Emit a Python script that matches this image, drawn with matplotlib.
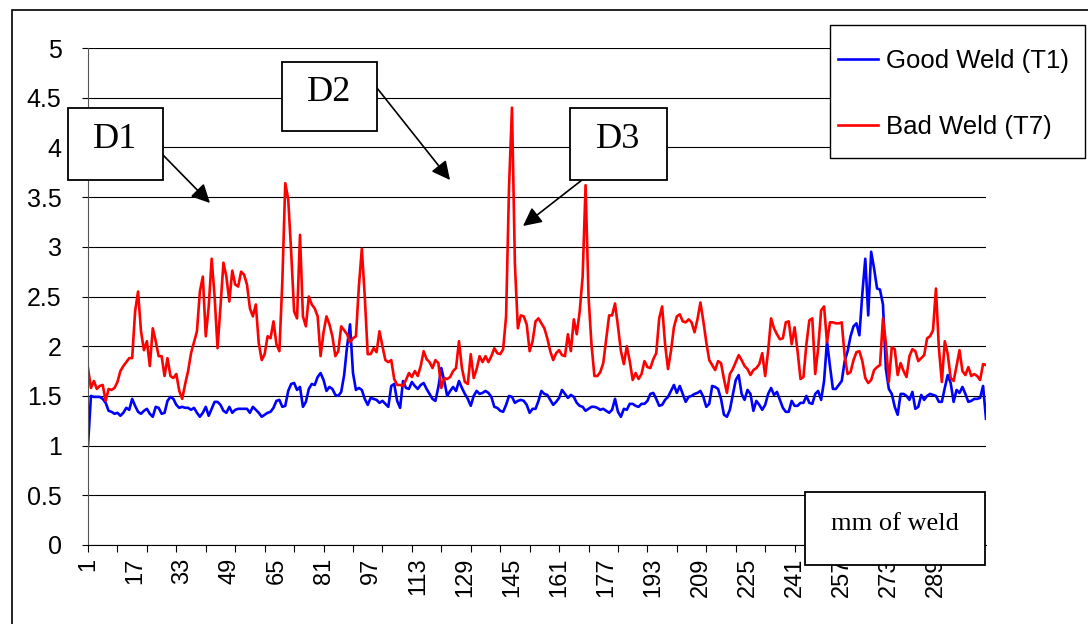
import numpy as np
import matplotlib.pyplot as plt
from matplotlib.patches import Rectangle

plt.rcParams['font.family'] = ['Liberation Sans', 'DejaVu Sans']

# readings along the weld, one value per mm
good_weld = [
    1.00, 1.50, 1.49, 1.49, 1.49, 1.47, 1.43, 1.35, 1.34, 1.32,
    1.33, 1.30, 1.33, 1.38, 1.36, 1.47, 1.40, 1.34, 1.32, 1.35,
    1.37, 1.32, 1.29, 1.39, 1.38, 1.32, 1.33, 1.45, 1.49, 1.47,
    1.41, 1.38, 1.39, 1.38, 1.38, 1.36, 1.38, 1.33, 1.29, 1.33,
    1.39, 1.30, 1.37, 1.44, 1.44, 1.41, 1.35, 1.33, 1.39, 1.33,
    1.36, 1.37, 1.37, 1.37, 1.37, 1.33, 1.39, 1.36, 1.33, 1.29,
    1.31, 1.33, 1.34, 1.38, 1.45, 1.46, 1.39, 1.40, 1.55, 1.62,
    1.63, 1.56, 1.59, 1.39, 1.44, 1.57, 1.62, 1.61, 1.69, 1.73,
    1.66, 1.55, 1.59, 1.57, 1.51, 1.50, 1.54, 1.71, 2.00, 2.22,
    1.73, 1.56, 1.58, 1.56, 1.47, 1.41, 1.48, 1.47, 1.46, 1.43,
    1.45, 1.42, 1.39, 1.60, 1.62, 1.45, 1.38, 1.65, 1.58, 1.57,
    1.64, 1.60, 1.57, 1.61, 1.63, 1.57, 1.52, 1.47, 1.45, 1.59,
    1.78, 1.65, 1.50, 1.55, 1.59, 1.55, 1.65, 1.58, 1.52, 1.47,
    1.40, 1.50, 1.55, 1.52, 1.53, 1.55, 1.53, 1.49, 1.39, 1.38,
    1.35, 1.34, 1.41, 1.50, 1.49, 1.43, 1.45, 1.46, 1.45, 1.41,
    1.33, 1.37, 1.37, 1.45, 1.55, 1.52, 1.51, 1.46, 1.41, 1.44,
    1.48, 1.56, 1.52, 1.48, 1.51, 1.49, 1.43, 1.40, 1.39, 1.35,
    1.37, 1.39, 1.39, 1.38, 1.36, 1.37, 1.35, 1.33, 1.36, 1.47,
    1.34, 1.29, 1.37, 1.36, 1.42, 1.42, 1.40, 1.39, 1.42, 1.42,
    1.45, 1.52, 1.53, 1.47, 1.40, 1.41, 1.46, 1.49, 1.55, 1.61,
    1.53, 1.60, 1.52, 1.44, 1.49, 1.50, 1.52, 1.53, 1.55, 1.49,
    1.39, 1.42, 1.60, 1.59, 1.57, 1.47, 1.31, 1.29, 1.36, 1.51,
    1.66, 1.71, 1.52, 1.46, 1.56, 1.52, 1.35, 1.45, 1.41, 1.36,
    1.41, 1.52, 1.58, 1.51, 1.54, 1.46, 1.38, 1.34, 1.34, 1.45,
    1.40, 1.40, 1.43, 1.43, 1.50, 1.43, 1.42, 1.52, 1.55, 1.46,
    1.65, 2.05, 1.80, 1.57, 1.57, 1.61, 1.65, 1.85, 1.95, 2.10,
    2.20, 2.23, 2.11, 2.53, 2.88, 2.31, 2.95, 2.78, 2.58, 2.57,
    2.42, 1.77, 1.57, 1.52, 1.39, 1.31, 1.52, 1.52, 1.50, 1.46,
    1.54, 1.37, 1.39, 1.51, 1.46, 1.50, 1.52, 1.51, 1.50, 1.44,
    1.44, 1.58, 1.71, 1.63, 1.44, 1.56, 1.53, 1.59, 1.52, 1.44,
    1.45, 1.47, 1.47, 1.48, 1.60, 1.27,
]

bad_weld = [
    1.78, 1.58, 1.65, 1.57, 1.60, 1.61, 1.45, 1.57, 1.56, 1.58,
    1.64, 1.75, 1.80, 1.84, 1.88, 1.88, 2.35, 2.55, 2.15, 1.96,
    2.05, 1.80, 2.18, 2.05, 1.90, 1.90, 1.70, 1.88, 1.70, 1.68,
    1.72, 1.55, 1.47, 1.62, 1.75, 1.93, 2.04, 2.15, 2.55, 2.70,
    2.10, 2.40, 2.88, 2.50, 1.98, 2.40, 2.84, 2.70, 2.45, 2.76,
    2.62, 2.60, 2.75, 2.72, 2.62, 2.38, 2.30, 2.42, 2.03, 1.86,
    1.92, 2.10, 2.08, 2.25, 2.02, 1.95, 2.65, 3.64, 3.48, 2.95,
    2.35, 2.28, 3.12, 2.30, 2.20, 2.50, 2.42, 2.38, 2.30, 1.90,
    2.14, 2.30, 2.22, 2.10, 1.90, 1.95, 2.20, 2.16, 2.12, 2.04,
    2.08, 2.10, 2.60, 2.98, 2.50, 1.92, 1.92, 1.98, 1.94, 2.15,
    2.00, 1.86, 1.84, 1.86, 1.67, 1.61, 1.61, 1.60, 1.66, 1.73,
    1.69, 1.75, 1.70, 1.80, 1.95, 1.87, 1.84, 1.78, 1.86, 1.83,
    1.58, 1.68, 1.67, 1.69, 1.75, 1.78, 2.05, 1.78, 1.64, 1.62,
    1.92, 1.68, 1.77, 1.90, 1.84, 1.90, 1.84, 1.90, 1.98, 1.93,
    1.92, 1.97, 2.30, 3.60, 4.40, 2.82, 2.18, 2.31, 2.30, 2.22,
    1.95, 2.05, 2.25, 2.28, 2.23, 2.18, 2.08, 1.95, 1.86, 1.93,
    1.96, 1.91, 1.90, 2.12, 1.95, 2.27, 2.12, 2.35, 2.70, 3.62,
    2.50, 2.02, 1.70, 1.70, 1.74, 1.83, 2.07, 2.31, 2.31, 2.43,
    2.20, 1.95, 1.82, 2.00, 1.85, 1.66, 1.73, 1.67, 1.72, 1.85,
    1.79, 1.78, 1.87, 1.93, 2.28, 2.40, 2.02, 1.77, 1.95, 2.19,
    2.30, 2.32, 2.25, 2.24, 2.27, 2.24, 2.14, 2.27, 2.44, 2.25,
    2.04, 1.86, 1.81, 1.76, 1.85, 1.83, 1.67, 1.53, 1.72, 1.77,
    1.84, 1.91, 1.86, 1.80, 1.77, 1.71, 1.76, 1.78, 1.82, 1.93,
    1.70, 1.95, 2.28, 2.18, 2.12, 2.07, 2.08, 2.24, 2.25, 2.02,
    2.19, 1.95, 1.67, 1.69, 2.02, 2.26, 2.28, 1.72, 1.98, 2.36,
    2.40, 2.04, 2.24, 2.24, 2.23, 2.23, 2.24, 1.90, 1.72, 1.74,
    1.86, 1.94, 1.95, 1.85, 1.68, 1.63, 1.66, 1.76, 1.79, 1.81,
    2.28, 2.03, 1.64, 1.99, 1.97, 1.71, 1.83, 1.75, 1.69, 1.90,
    1.97, 1.95, 1.85, 1.88, 1.91, 2.08, 2.10, 2.16, 2.58, 1.98,
    1.64, 2.05, 1.92, 1.68, 1.65, 1.80, 1.96, 1.75, 1.71, 1.79,
    1.70, 1.72, 1.70, 1.66, 1.82, 1.81,
]

mm = np.arange(1, len(good_weld) + 1)
x_labels = list(range(1, 290, 16))
x_marks = list(range(1, len(mm) + 1, 10))
y_ticks = [0, 0.5, 1, 1.5, 2, 2.5, 3, 3.5, 4, 4.5, 5]
y_labels = ['0', '0.5', '1', '1.5', '2', '2.5', '3', '3.5', '4', '4.5', '5']

W, H = 1088, 624
fig = plt.figure(figsize=(W / 100, H / 100), dpi=100)
ax = fig.add_axes([88 / W, 1 - 545 / H, (986 - 88) / W, (545 - 48) / H])

ax.plot(mm, good_weld, color='#0000ff', lw=1.9, label='Good Weld (T1)')
ax.plot(mm, bad_weld, color='#ff0000', lw=1.9, label='Bad Weld (T7)')

ax.set_xlim(1, len(mm))
ax.set_ylim(0, 5)
ax.set_yticks(y_ticks)
ax.set_yticklabels(y_labels, fontsize=18)
ax.yaxis.grid(True, color='black', lw=0.8)
ax.set_axisbelow(True)
ax.tick_params(axis='y', direction='out', length=4, width=0.8, pad=15)

ax.xaxis.remove_overlapping_locs = False
ax.set_xticks(x_labels)
ax.set_xticklabels([str(v) for v in x_labels], rotation=90, fontsize=17)
ax.set_xticks(x_marks, minor=True)
ax.tick_params(axis='x', which='major', length=0, pad=9)
ax.tick_params(axis='x', which='minor', direction='out', length=5, width=0.8)

for side in ['top', 'right']:
    ax.spines[side].set_visible(False)
ax.spines['left'].set_color('#555555')
ax.spines['bottom'].set_color('black')

# outer chart border
fig.add_artist(Rectangle((12 / W, -0.1), 1.2, (H - 10) / H + 0.1,
                         transform=fig.transFigure, fill=False,
                         edgecolor='black', lw=1.2))


def note_box(x0, y0, x1, y1, text, size):
    fig.add_artist(Rectangle((x0 / W, 1 - y1 / H), (x1 - x0) / W, (y1 - y0) / H,
                             transform=fig.transFigure, facecolor='white',
                             edgecolor='black', lw=1.3, zorder=5))
    fig.text((x0 + x1) / 2 / W, 1 - (y0 + y1 - 8) / 2 / H, text,
             ha='center', va='center', family='Liberation Serif',
             fontsize=size, zorder=6)


def arrow(x0, y0, x1, y1):
    ax.annotate('', xy=(x1, H - y1), xytext=(x0, H - y0),
                xycoords='figure pixels', textcoords='figure pixels',
                arrowprops=dict(arrowstyle='-|>', color='black', lw=1.2,
                                mutation_scale=28, shrinkA=0, shrinkB=0))


note_box(68, 108, 163, 180, 'D1', 26)
note_box(282, 62, 377, 131, 'D2', 26)
note_box(570, 108, 667, 180, 'D3', 26)
note_box(805, 492, 985, 565, 'mm of weld', 19)
arrow(163, 155, 210, 203)
arrow(377, 88, 450, 180)
arrow(582, 180, 523, 226)

# legend frame drawn separately so the entries can sit where the original has them
fig.add_artist(Rectangle((830 / W, 1 - 158 / H), (1085 - 830) / W, (158 - 25) / H,
                         transform=fig.transFigure, facecolor='white',
                         edgecolor='black', lw=1.0, zorder=6))
leg = fig.legend(loc='upper left', bbox_to_anchor=(838 / W, 1 - 49 / H),
                 fontsize=18.5, frameon=False, borderaxespad=0, borderpad=0,
                 labelspacing=1.65, handlelength=1.55, handletextpad=0.3)
leg.set_zorder(7)

fig.savefig('out.png', dpi=100)
